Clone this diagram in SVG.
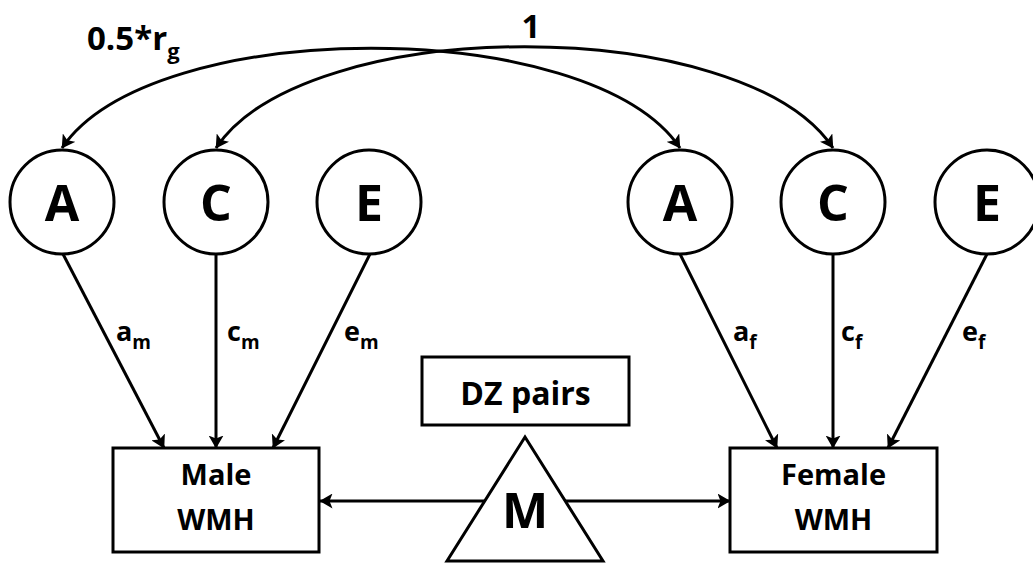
<svg xmlns="http://www.w3.org/2000/svg" width="1033" height="563" viewBox="0 0 1033 563">
<style>
.s{fill:none;stroke:#000;stroke-width:3}
.n{fill:#fff;stroke:#000;stroke-width:3}
text{font-family:"Open Sans","Liberation Sans",sans-serif;font-weight:bold;fill:#000}
.big{font-size:50px;text-anchor:middle}
.box{font-size:29px;text-anchor:middle}
.lab{font-size:27px}
.sub{font-size:19px}
</style>
<defs>
<marker id="ah" viewBox="0 0 13 15" refX="12.5" refY="7.5" markerWidth="13" markerHeight="15" markerUnits="userSpaceOnUse" orient="auto-start-reverse">
<path d="M0,0 L13,7.5 L0,15 L3,7.5 z" fill="#000"/>
</marker>
</defs>
<g id="connectors">
<path class="s" d="M680,148 C590,15 152,15 62,148" marker-start="url(#ah)" marker-end="url(#ah)"/>
<path class="s" d="M216,148 C306,13 743,13 833,148" marker-start="url(#ah)" marker-end="url(#ah)"/>
<line class="s" x1="63" y1="254" x2="164" y2="448" marker-end="url(#ah)"/>
<line class="s" x1="216" y1="254" x2="216" y2="448" marker-end="url(#ah)"/>
<line class="s" x1="370" y1="254" x2="273" y2="448" marker-end="url(#ah)"/>
<line class="s" x1="680" y1="254" x2="777" y2="448" marker-end="url(#ah)"/>
<line class="s" x1="833" y1="254" x2="833" y2="448" marker-end="url(#ah)"/>
<line class="s" x1="987" y1="254" x2="888" y2="448" marker-end="url(#ah)"/>
<line class="s" x1="485" y1="501" x2="320" y2="501" marker-end="url(#ah)"/>
<line class="s" x1="565" y1="501" x2="730" y2="501" marker-end="url(#ah)"/>
</g>
<g id="labels">
<text class="lab" x="87" y="50" style="font-size:33px">0.5*r<tspan class="sub" dy="9" style="font-size:22px">g</tspan></text>
<text class="lab" x="531" y="38" style="font-size:33px;text-anchor:middle">1</text>
<text class="lab" x="116" y="341">a<tspan class="sub" dy="8">m</tspan></text>
<text class="lab" x="227" y="341">c<tspan class="sub" dy="8">m</tspan></text>
<text class="lab" x="344" y="341">e<tspan class="sub" dy="8">m</tspan></text>
<text class="lab" x="733" y="341">a<tspan class="sub" dy="8">f</tspan></text>
<text class="lab" x="841" y="341">c<tspan class="sub" dy="8">f</tspan></text>
<text class="lab" x="962" y="341">e<tspan class="sub" dy="8">f</tspan></text>
</g>
<g id="A_m"><circle class="n" cx="62" cy="202" r="52"/><text class="big" x="62" y="221">A</text></g>
<g id="C_m"><circle class="n" cx="216" cy="202" r="52"/><text class="big" x="216" y="221">C</text></g>
<g id="E_m"><circle class="n" cx="369" cy="202" r="52"/><text class="big" x="369" y="221">E</text></g>
<g id="A_f"><circle class="n" cx="680" cy="202" r="52"/><text class="big" x="680" y="221">A</text></g>
<g id="C_f"><circle class="n" cx="833" cy="202" r="52"/><text class="big" x="833" y="221">C</text></g>
<g id="E_f"><circle class="n" cx="987" cy="202" r="52"/><text class="big" x="987" y="221">E</text></g>
<g id="male"><rect class="n" x="113" y="448" width="206" height="104"/><text class="box" x="216" y="485">Male</text><text class="box" x="216" y="530">WMH</text></g>
<g id="female"><rect class="n" x="730" y="448" width="207" height="104"/><text class="box" x="833.5" y="485">Female</text><text class="box" x="833.5" y="530">WMH</text></g>
<g id="dz"><rect class="n" x="422" y="357" width="207" height="68"/><text class="box" x="525.5" y="405" style="font-size:32px">DZ pairs</text></g>
<g id="mean"><path class="n" d="M525,437 L603,561 L447,561 Z"/><text class="big" x="525" y="528" style="font-size:49px">M</text></g>
</svg>
